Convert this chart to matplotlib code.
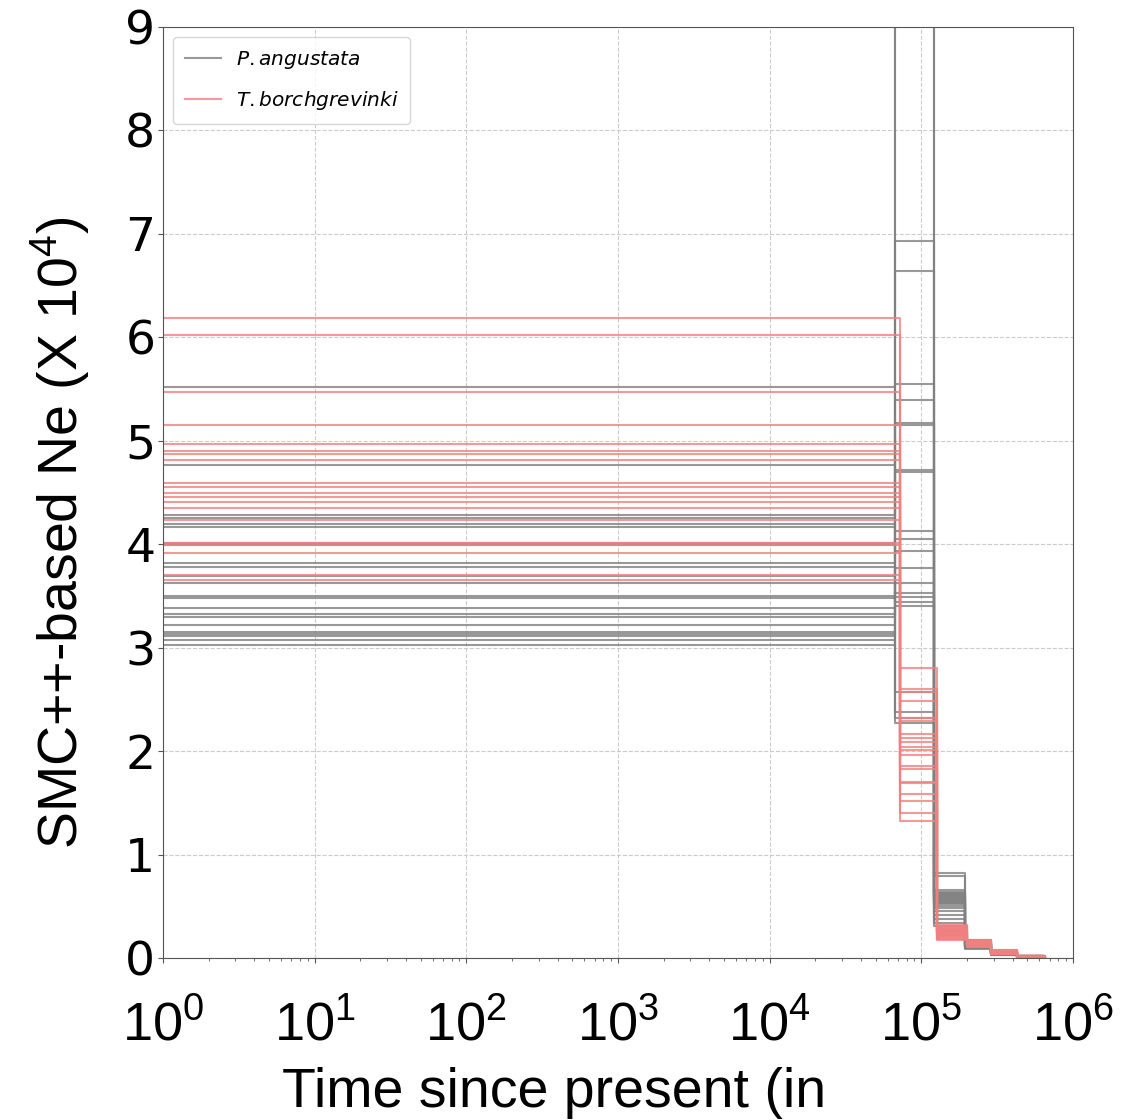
import numpy as np
import matplotlib
matplotlib.use('Agg')
import matplotlib.pyplot as plt
from matplotlib import font_manager

# step change times (generations) for each species
gray_times = [1, 6.7e4, 1.22e5, 1.95e5, 2.9e5, 4.3e5, 6.3e5]
red_times = [1, 7.2e4, 1.27e5, 2.0e5, 2.9e5, 4.3e5, 6.5e5]

# P. angustata, Ne in units of 10^4, one value per line per epoch
gray_flat = [5.52, 4.77, 4.28, 4.25, 4.20, 4.17, 4.01, 3.99, 3.82, 3.78, 3.69, 3.63,
             3.50, 3.48, 3.38, 3.33, 3.30, 3.22, 3.15, 3.13, 3.11, 3.07, 3.03]
gray_mid = [5.55, 9.80, 4.72, 6.93, 3.93, 5.39, 2.57, 4.70, 5.17, 3.44, 9.50, 2.38,
            4.13, 5.15, 3.63, 6.64, 3.40, 4.05, 2.27, 3.53, 3.77, 2.32, 3.49]
gray_ep3 = [0.82, 0.66, 0.79, 0.62, 0.60, 0.57, 0.64, 0.55, 0.63, 0.52, 0.61, 0.45,
            0.59, 0.58, 0.31, 0.56, 0.54, 0.42, 0.53, 0.50, 0.38, 0.48, 0.34]
gray_ep4 = [0.17, 0.15, 0.16, 0.14, 0.13, 0.12, 0.15, 0.11, 0.14, 0.10, 0.13, 0.09,
            0.12, 0.16, 0.10, 0.11, 0.13, 0.12, 0.14, 0.11, 0.10, 0.12, 0.13]
gray_ep5 = [0.07, 0.06, 0.05, 0.06, 0.04, 0.05, 0.06, 0.04, 0.05, 0.03, 0.06, 0.04,
            0.05, 0.07, 0.04, 0.05, 0.06, 0.03, 0.05, 0.04, 0.05, 0.06, 0.04]
gray_ep6 = [0.02, 0.02, 0.01, 0.02, 0.01, 0.02, 0.01, 0.02, 0.02, 0.01, 0.02, 0.01,
            0.02, 0.02, 0.01, 0.01, 0.02, 0.01, 0.02, 0.01, 0.02, 0.01, 0.02]

# T. borchgrevinki
red_flat = [6.19, 6.02, 5.47, 5.15, 4.97, 4.90, 4.87, 4.81, 4.59, 4.55, 4.50, 4.46,
            4.41, 4.35, 4.23, 4.01, 3.99, 3.92, 3.70, 3.65]
red_mid = [2.04, 2.57, 1.70, 2.80, 1.52, 2.13, 2.32, 1.86, 2.48, 1.40, 2.09, 1.96,
           2.29, 1.59, 2.60, 1.32, 2.17, 1.83, 2.01, 1.69]
red_ep3 = [0.30, 0.25, 0.27, 0.32, 0.22, 0.28, 0.20, 0.26, 0.24, 0.17, 0.29, 0.23,
           0.21, 0.27, 0.31, 0.19, 0.25, 0.22, 0.28, 0.18]
red_ep4 = [0.16, 0.14, 0.15, 0.17, 0.12, 0.15, 0.11, 0.14, 0.13, 0.12, 0.16, 0.13,
           0.12, 0.15, 0.17, 0.11, 0.14, 0.13, 0.16, 0.12]
red_ep5 = [0.07, 0.05, 0.06, 0.08, 0.04, 0.06, 0.05, 0.07, 0.05, 0.04, 0.06, 0.05,
           0.04, 0.06, 0.08, 0.04, 0.05, 0.06, 0.07, 0.05]
red_ep6 = [0.02, 0.01, 0.02, 0.02, 0.01, 0.01, 0.02, 0.01, 0.02, 0.01, 0.02, 0.01,
           0.01, 0.02, 0.02, 0.01, 0.01, 0.02, 0.02, 0.01]

x_ticks = [1, 1e1, 1e2, 1e3, 1e4, 1e5, 1e6]
x_tick_labels = ['$10^{0}$', '$10^{1}$', '$10^{2}$', '$10^{3}$', '$10^{4}$', '$10^{5}$', '$10^{6}$']
y_ticks = [0, 1, 2, 3, 4, 5, 6, 7, 8, 9]

names = [f.name for f in font_manager.fontManager.ttflist]
narrow = 'Liberation Sans Narrow' if 'Liberation Sans Narrow' in names else 'Liberation Sans'
plt.rcParams['mathtext.rm'] = narrow
plt.rcParams['mathtext.it'] = narrow + ':italic'
plt.rcParams['mathtext.bf'] = narrow + ':bold'

fig = plt.figure(figsize=(11.25, 11.2), dpi=100)
ax = fig.add_axes([0.1449, 0.1446, 0.8089, 0.8313])

for i in range(len(gray_flat)):
    vals = [gray_flat[i], gray_mid[i], gray_ep3[i], gray_ep4[i], gray_ep5[i], gray_ep6[i], 0]
    ax.plot(gray_times, vals, drawstyle='steps-post', color='grey', alpha=0.8, lw=1.5,
            label='$P.angustata$' if i == 0 else None)

for i in range(len(red_flat)):
    vals = [red_flat[i], red_mid[i], red_ep3[i], red_ep4[i], red_ep5[i], red_ep6[i], 0]
    ax.plot(red_times, vals, drawstyle='steps-post', color='lightcoral', alpha=0.8, lw=1.5,
            label='$T.borchgrevinki$' if i == 0 else None)

ax.set_xscale('log')
ax.set_xlim(1, 1e6)
ax.set_ylim(0, 9)
ax.grid(True, which='major', linestyle='--', color='#cccccc', lw=0.8)

ax.set_xticks(x_ticks)
ax.set_xticklabels(x_tick_labels)
for t in ax.get_xticklabels():
    t.set_fontsize(39)
    t.set_math_fontfamily('custom')
ax.tick_params(axis='x', which='major', pad=26, colors='#555555', labelcolor='black')
ax.tick_params(axis='x', which='minor', colors='#555555')

ax.set_yticks(y_ticks)
ax.set_yticklabels([str(v) for v in y_ticks], fontsize=34, fontfamily='DejaVu Sans')
ax.tick_params(axis='y', colors='#555555', labelcolor='black', pad=2)

for s in ax.spines.values():
    s.set_color('#555555')

ax.set_xlabel('Time since present (in', fontsize=40, fontfamily=narrow)
ax.xaxis.set_label_coords(0.43, -0.117)
ylab = ax.set_ylabel('SMC++-based Ne (X 10$^{4}$)', fontsize=40, fontfamily=narrow)
ylab.set_math_fontfamily('custom')
ax.yaxis.set_label_coords(-0.078, 0.457)

ax.legend(loc='upper left', fontsize=14.5, handlelength=1.8, handletextpad=0.7,
          labelspacing=0.9, borderpad=0.6)

plt.savefig('out.png', dpi=100)
